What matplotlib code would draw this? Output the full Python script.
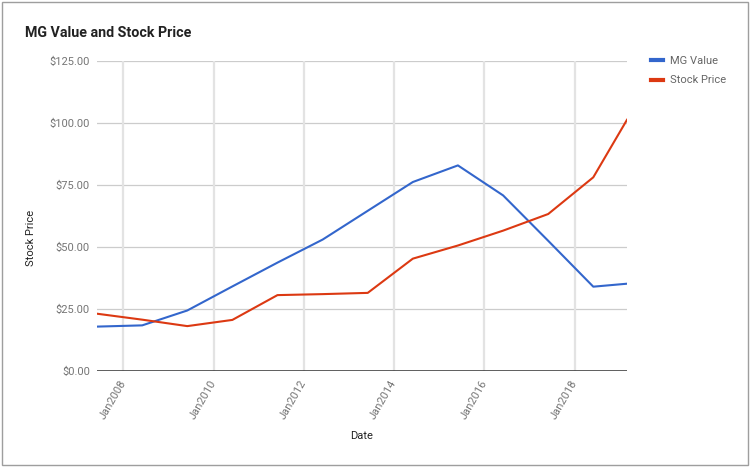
import numpy as np
import pandas as pd
import matplotlib
matplotlib.use("Agg")
import matplotlib.pyplot as plt
import matplotlib.dates as mdates
from matplotlib.patches import Rectangle

# Data
dates = ["2007-06-01", "2008-06-01", "2009-06-01", "2010-06-01", "2011-06-01",
         "2012-06-01", "2013-06-01", "2014-06-01", "2015-06-01", "2016-06-01",
         "2017-06-01", "2018-06-01", "2019-03-01"]
mg_value = [17.9, 18.4, 24.4, 34.1, 43.7, 53.0, 64.6, 76.2, 82.9, 70.8, 52.5, 34.0, 35.2]
stock_price = [23.1, 20.7, 18.1, 20.6, 30.6, 31.0, 31.5, 45.3, 50.6, 56.6, 63.3, 78.1, 101.3]
y_ticks = [0, 25, 50, 75, 100, 125]

BLUE = "#3366cc"
RED = "#dc3912"
TICK_GREY = "#757575"

plt.rcParams["font.family"] = ["Roboto", "DejaVu Sans"]

W, H = 752, 471
fig = plt.figure(figsize=(W / 100, H / 100), dpi=100)
# plot area in pixels: x 97..627, y 61..371
ax = fig.add_axes([97 / W, 1 - 371 / H, 530 / W, 310 / H])

x = pd.to_datetime(dates)
ax.plot(x, mg_value, color=BLUE, lw=1.5, label="MG Value", zorder=4)
ax.plot(x, stock_price, color=RED, lw=1.5, label="Stock Price", zorder=4)

ax.set_xlim(x[0], x[-1])
ax.set_ylim(0, 125)
ax.set_yticks(y_ticks)
ax.set_yticklabels(["${:.2f}".format(v) for v in y_ticks])

ax.xaxis.set_major_locator(mdates.YearLocator(2))
ax.xaxis.set_major_formatter(mdates.DateFormatter("Jan%Y"))

# grid: light horizontals, slightly heavier verticals
for v in y_ticks[1:]:
    ax.axhline(v, color="#cccccc", lw=0.9, zorder=1)
for t in ax.get_xticks():
    ax.axvline(t, color="#e3e3e3", lw=1.6, zorder=1)
ax.axhline(0, color="#333333", lw=1.1, zorder=3)

for s in ax.spines.values():
    s.set_visible(False)
ax.tick_params(axis="both", length=0, labelsize=8, labelcolor=TICK_GREY)
ax.tick_params(axis="y", pad=5)
ax.tick_params(axis="x", pad=7)
for lab in ax.get_xticklabels():
    lab.set_rotation(60)
    lab.set_ha("right")
    lab.set_va("center")
    lab.set_rotation_mode("anchor")

ax.set_xlabel("Date", fontsize=8, color="#222222")
ax.xaxis.set_label_coords(0.5, -0.195)
ax.set_ylabel("Stock Price", fontsize=8, color="#222222")
ax.yaxis.set_label_coords(-0.115, 0.43)

fig.text(25 / W, 1 - 33 / H, "MG Value and Stock Price", fontsize=10.3,
         fontweight="bold", color="#222222", ha="left", va="center")

leg = ax.legend(loc="upper left", bbox_to_anchor=(651 / W, 1 - 56 / H),
                bbox_transform=fig.transFigure, frameon=False, fontsize=8,
                handlelength=1.1, handletextpad=0.65, labelspacing=0.85,
                borderpad=0, borderaxespad=0)
for h in leg.get_lines():
    h.set_linewidth(3)
for t in leg.get_texts():
    t.set_color("#666666")

# outer frame of the chart card
fig.add_artist(Rectangle((2 / W, 1 - 465 / H), 746 / W, 463 / H,
                         transform=fig.transFigure, fill=False,
                         ec="#9e9e9e", lw=1.0))

fig.savefig("out.png", dpi=100)
